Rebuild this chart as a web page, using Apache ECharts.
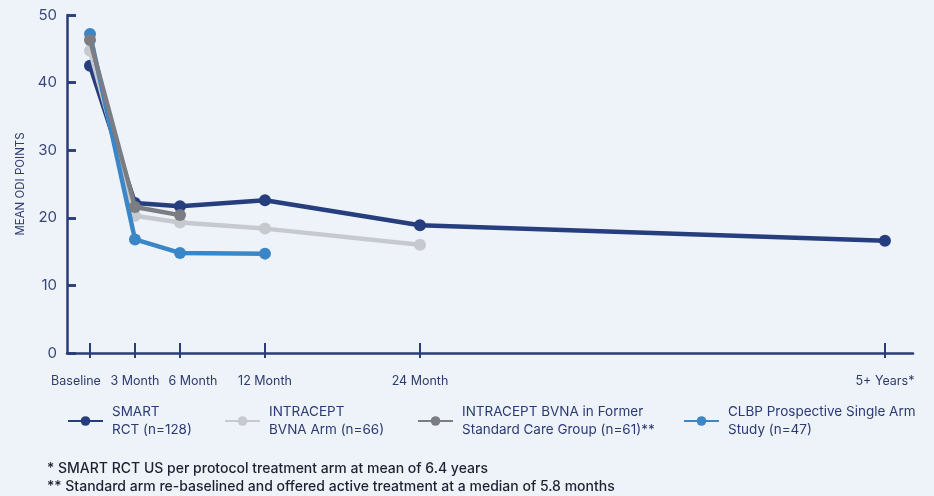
<!DOCTYPE html>
<html>
<head>
<meta charset="utf-8">
<title>Mean ODI Points Over Time</title>
<script src="https://cdn.jsdelivr.net/npm/echarts@6/dist/echarts.min.js"></script>
<style>
  html, body { margin: 0; padding: 0; background: #eef3fa; }
  #chart { width: 934px; height: 496px; }
</style>
</head>
<body>
<div id="chart"></div>
<script>
// Follow-up visits and their tick labels
const visits = ['Baseline', '3 Month', '6 Month', '12 Month', '24 Month', '5+ Years*'];

// Mean ODI points per visit (null = not reported)
const smartRct      = [42.5, 22.2, 21.7, 22.6, 18.9, 16.6];
const intraceptArm  = [44.7, 20.3, 19.3, 18.4, 16.0, null];
const intraceptSc   = [46.3, 21.6, 20.4, null, null, null];
const clbpSingleArm = [47.2, 16.8, 14.8, 14.7, null, null];

// Series names as shown in the legend
const seriesNames = [
  'SMART\nRCT (n=128)',
  'INTRACEPT\nBVNA Arm (n=66)',
  'INTRACEPT BVNA in Former\nStandard Care Group (n=61)**',
  'CLBP Prospective Single Arm\nStudy (n=47)'
];

const yTicks = [0, 10, 20, 30, 40, 50];

// Horizontal placement of each visit along the time axis (layout only)
const visitSpacing = [0, 3, 6, 11.667, 22, 53];
const axisMin = -1.533;
const axisMax = 54.87;
// Horizontal nudge (px) of individual tick labels so crowded ones stay readable
const labelNudge = [-14, 0, 13, 0, 0, 0];

const colors = ['#263e7e', '#c6c9ce', '#7a7d82', '#3b86c6'];
const axisColor = '#2b3d78';
const font = 'Inter, "Noto Sans", sans-serif';

function toPoints(values) {
  return values
    .map((v, i) => (v == null ? null : [visitSpacing[i], v]))
    .filter(p => p !== null);
}

const seriesValues = [smartRct, intraceptArm, intraceptSc, clbpSingleArm];
// draw order: navy, light gray, light blue, gray
const drawOrder = [0, 1, 3, 2];

const series = drawOrder.map(idx => ({
  name: seriesNames[idx],
  type: 'line',
  xAxisIndex: 0,
  yAxisIndex: 0,
  data: toPoints(seriesValues[idx]),
  symbol: 'circle',
  symbolSize: 12,
  lineStyle: { width: 4.5, color: colors[idx] },
  itemStyle: { color: colors[idx] },
  color: colors[idx],
  z: 3 + drawOrder.indexOf(idx),
  animation: false
}));

const legendLeft = [67, 224, 417, 683];
const legends = seriesNames.map((n, i) => ({
  data: [n],
  left: legendLeft[i],
  top: 403,
  padding: 0,
  orient: 'horizontal',
  itemWidth: 35,
  itemHeight: 12,
  selectedMode: false,
  textStyle: {
    fontFamily: font,
    fontSize: 13.5,
    color: '#2b3a72',
    lineHeight: 18,
    padding: [0, 0, 0, 4]
  }
}));

// Rich-text styles that shift a label left or right of its tick
const rich = {};
labelNudge.forEach((d, i) => {
  rich['n' + i] = {
    fontFamily: font,
    fontSize: 12.5,
    color: '#2e3b6c',
    padding: d < 0 ? [0, -2 * d, 0, 0] : [0, 0, 0, 2 * d]
  };
});

function visitLabel(v) {
  const i = visitSpacing.findIndex(s => Math.abs(s - v) < 1e-6);
  return i >= 0 ? '{n' + i + '|' + visits[i] + '}' : '';
}

const evenStops = visitSpacing.filter((_, i) => i % 2 === 0);
const oddStops = visitSpacing.filter((_, i) => i % 2 === 1);

function labelCfg(values) {
  return {
    show: true,
    customValues: values,
    hideOverlap: false,
    showMinLabel: true,
    showMaxLabel: true,
    formatter: visitLabel,
    margin: 22,
    fontFamily: font,
    fontSize: 12.5,
    color: '#2e3b6c',
    rich: rich
  };
}

const baseX = {
  type: 'value',
  gridIndex: 0,
  min: axisMin,
  max: axisMax,
  position: 'bottom',
  splitLine: { show: false }
};

const chart = echarts.init(document.getElementById('chart'), null, { renderer: 'canvas' });
chart.setOption({
  backgroundColor: '#eef3fa',
  animation: false,
  grid: [
    { left: 67, right: 21, top: 15, bottom: 143, containLabel: false },
    // narrow strip along the value axis that carries its tick marks
    { left: 67, width: 9, top: 15, bottom: 143, containLabel: false }
  ],
  legend: legends,
  xAxis: [
    Object.assign({}, baseX, {
      axisLine: { show: true, onZero: false, lineStyle: { color: axisColor, width: 2.5 } },
      axisTick: {
        show: true, inside: true, length: 10,
        customValues: visitSpacing,
        lineStyle: { color: axisColor, width: 2 }
      },
      axisLabel: labelCfg(evenStops)
    }),
    Object.assign({}, baseX, {
      axisLine: { show: false, onZero: false },
      axisTick: {
        show: true, inside: false, length: 5,
        customValues: visitSpacing,
        lineStyle: { color: axisColor, width: 2 }
      },
      axisLabel: labelCfg(oddStops)
    }),
    {
      type: 'value',
      gridIndex: 1,
      min: 0,
      max: 1,
      show: false
    }
  ],
  yAxis: [
    {
      type: 'value',
      gridIndex: 0,
      min: 0,
      max: 50,
      interval: 10,
      position: 'left',
      name: 'MEAN ODI POINTS',
      nameLocation: 'middle',
      nameGap: 34,
      nameTextStyle: { fontFamily: font, fontSize: 11.5, color: '#2e3b6c' },
      axisLine: { show: true, onZero: false, lineStyle: { color: axisColor, width: 2.5 } },
      axisTick: { show: true, inside: true, length: 9, lineStyle: { color: axisColor, width: 2.5 } },
      axisLabel: {
        margin: 10,
        fontFamily: font,
        fontSize: 15,
        color: '#3a4777'
      },
      splitLine: { show: false }
    },
    {
      type: 'value',
      gridIndex: 1,
      min: 0,
      max: 50,
      interval: 10,
      axisLine: { show: false, onZero: false },
      axisTick: { show: false },
      axisLabel: { show: false },
      splitLine: { show: true, lineStyle: { color: axisColor, width: 2.5 } }
    }
  ],
  series: series,
  graphic: [
    {
      type: 'text',
      left: 47,
      top: 462,
      style: {
        text: '* SMART RCT US per protocol treatment arm at mean of 6.4 years',
        font: '500 14px ' + font,
        fill: '#1e2230'
      }
    },
    {
      type: 'text',
      left: 47,
      top: 480,
      style: {
        text: '** Standard arm re-baselined and offered active treatment at a median of 5.8 months',
        font: '500 14px ' + font,
        fill: '#1e2230'
      }
    }
  ]
});
</script>
</body>
</html>
